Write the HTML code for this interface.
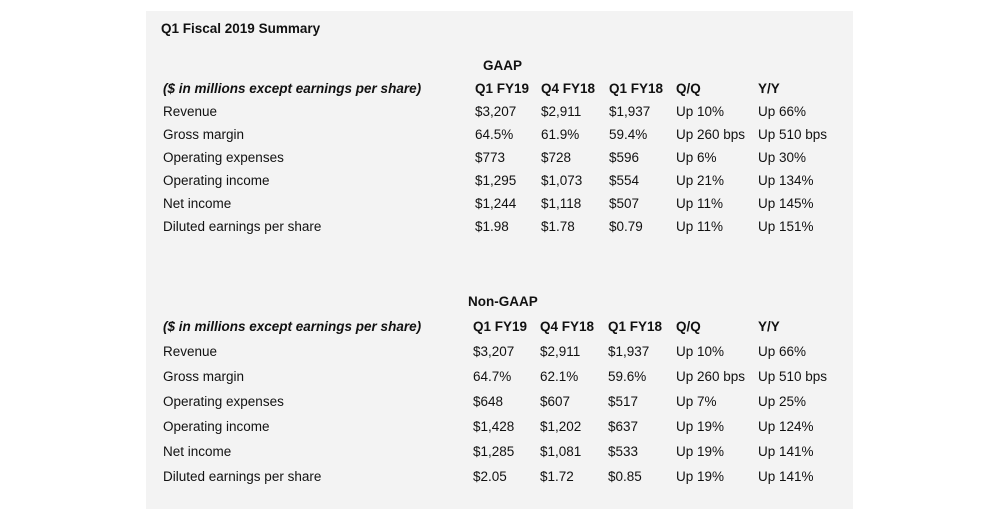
<!DOCTYPE html>
<html><head><meta charset="utf-8"><style>
body{margin:0;width:1000px;height:520px;background:#fff;font-family:"Liberation Sans",sans-serif;font-size:13.5px;color:#111;position:relative;overflow:hidden}
#panel{position:absolute;left:146px;top:11px;width:707px;height:498px;background:#f3f3f3}
.t{position:absolute;white-space:nowrap;line-height:16px;transform:translateY(-8px)}
.b{font-weight:bold}.i{font-style:italic;font-weight:bold}
</style></head><body>
<div id="panel"></div>
<div id="c"></div>
<script>
const c=document.getElementById('c');
function t(x,y,s,cls,name){const d=document.createElement('div');d.className='t '+(cls||'');d.style.left=x+'px';d.style.top=y+'px';d.textContent=s;


c.appendChild(d);}
t(161,29,'Q1 Fiscal 2019 Summary','b','title');
const labels=['Revenue','Gross margin','Operating expenses','Operating income','Net income','Diluted earnings per share'];
const hdr=['Q1 FY19','Q4 FY18','Q1 FY18','Q/Q','Y/Y'];
const gaap=[['$3,207','$2,911','$1,937','Up 10%','Up 66%'],['64.5%','61.9%','59.4%','Up 260 bps','Up 510 bps'],['$773','$728','$596','Up 6%','Up 30%'],['$1,295','$1,073','$554','Up 21%','Up 134%'],['$1,244','$1,118','$507','Up 11%','Up 145%'],['$1.98','$1.78','$0.79','Up 11%','Up 151%']];
const nongaap=[['$3,207','$2,911','$1,937','Up 10%','Up 66%'],['64.7%','62.1%','59.6%','Up 260 bps','Up 510 bps'],['$648','$607','$517','Up 7%','Up 25%'],['$1,428','$1,202','$637','Up 19%','Up 124%'],['$1,285','$1,081','$533','Up 19%','Up 141%'],['$2.05','$1.72','$0.85','Up 19%','Up 141%']];
function section(title,tx,ty,hy,y0,dy,cols,data,pre){
 t(tx,ty,title,'b',pre+'-heading');
 t(163,hy,'($ in millions except earnings per share)','i',pre+'-units-note');
 hdr.forEach((h,j)=>t(cols[j],hy,h,'b',pre+'-col-header'));
 labels.forEach((l,i)=>{t(163,y0+i*dy,l,'',pre+'-row-label');
  data[i].forEach((v,j)=>t(cols[j],y0+i*dy,v,'',pre+'-cell'));});
}
section('GAAP',483,66,89,112,23,[475,541,609,676,758],gaap,'gaap');
section('Non-GAAP',468,302,327,352,25,[473,540,608,676,758],nongaap,'non-gaap');
</script>
</body></html>
